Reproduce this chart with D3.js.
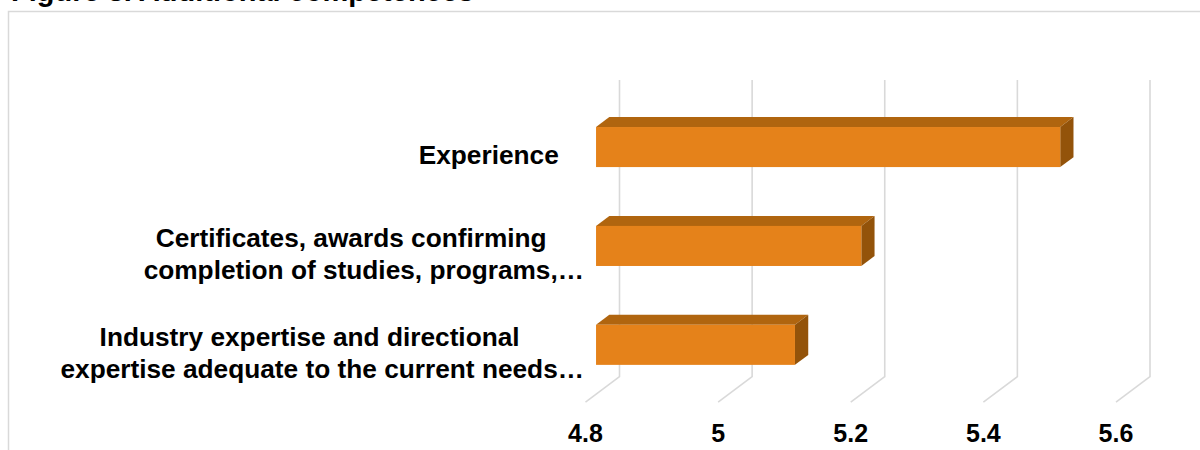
<!DOCTYPE html>
<html>
<head>
    <meta charset='utf-8'>
    <title>Additional competences</title>
    <style>
        body { margin: 0; background: #fff; }
        text { font-family: "Liberation Sans", Arial, sans-serif; font-weight: bold; fill: #000; }
    </style>
</head>
<body>
<svg width="1200" height="450"></svg>
<script src="https://d3js.org/d3.v7.min.js"></script>
<script>
    // data
    const categories = [
        ["Experience"],
        ["Certificates, awards confirming", "completion of studies, programs,\u2026"],
        ["Industry expertise and directional", "expertise adequate to the current needs\u2026"]
    ]
    const values = [5.5, 5.2, 5.1]
    const ticks = [4.8, 5, 5.2, 5.4, 5.6]
    const title = "Figure 3. Additional competences"

    const width = 1200
    const height = 450

    // 3d floor depth: back plane -> front plane offset
    const depthX = -34
    const depthY = 25.5
    const barFront = 0.69
    const barBack = 0.30

    const svg = d3.select("svg")
        .attr("viewBox", [0, 0, width, height])

    // chart frame (only top and left edge are in view)
    svg.append("path")
        .attr("d", "M8.5,450V11.5H1200")
        .attr("fill", "none")
        .attr("stroke", "#d9d9d9")
        .attr("stroke-width", 1.5)

    svg.append("text")
        .attr("x", 11)
        .attr("y", 0.5)
        .attr("font-size", 29)
        .text(title)

    const x = d3.scaleLinear()
        .domain([ticks[0], ticks[ticks.length - 1]])
        .range([619.5, 1150])

    const y = d3.scaleBand()
        .domain(d3.range(categories.length))
        .range([80, 376.7])
        .paddingInner(0.595)
        .paddingOuter(0.2975)

    // gridlines: back wall vertical, then floor diagonal
    svg.append("g")
        .attr("fill", "none")
        .attr("stroke", "#d9d9d9")
        .attr("stroke-width", 1.6)
        .selectAll("path")
        .data(ticks)
        .join("path")
        .attr("d", t => `M${x(t)},${y.range()[0]}V${y.range()[1]}l${depthX},${depthY}`)

    // bars
    const bars = svg.append("g")
        .selectAll("g")
        .data(values)
        .join("g")

    const fx = v => x(v) + depthX * barFront
    const bx = v => x(v) + depthX * barBack
    const fy = i => y(i) + depthY * barFront
    const by = i => y(i) + depthY * barBack
    const bw = y.bandwidth()

    bars.append("path")
        .attr("fill", "#b0650f")
        .attr("d", (d, i) => `M${fx(ticks[0])},${fy(i)}L${fx(d)},${fy(i)}L${bx(d)},${by(i)}L${bx(ticks[0])},${by(i)}Z`)

    bars.append("path")
        .attr("fill", "#93530a")
        .attr("d", (d, i) => `M${fx(d)},${fy(i)}L${bx(d)},${by(i)}L${bx(d)},${by(i) + bw}L${fx(d)},${fy(i) + bw}Z`)

    bars.append("rect")
        .attr("fill", "#e5821a")
        .attr("x", fx(ticks[0]))
        .attr("y", (d, i) => fy(i))
        .attr("width", d => fx(d) - fx(ticks[0]))
        .attr("height", bw)

    // category labels, lines centered in a block right-aligned to the axis
    const labelRight = 584
    const stretch = 1.05
    const linePad = 24
    const lineHeight = 32
    const labels = svg.append("g")
        .attr("font-size", 25)
        .attr("text-anchor", "middle")
        .attr("transform", `translate(${labelRight * (1 - stretch)},0) scale(${stretch},1)`)

    categories.forEach((lines, i) => {
        const cy = y(i) + bw / 2 + depthY
        const g = labels.append("g")
        const texts = lines.map((line, j) => g.append("text")
            .attr("y", cy - (lines.length - 1) * lineHeight / 2 + j * lineHeight + 9)
            .text(line))
        const pads = lines.map(line => line.endsWith("\u2026") ? 0 : linePad)
        const widths = texts.map((t, j) => t.node().getComputedTextLength() + pads[j])
        const center = labelRight - d3.max(widths) / 2
        texts.forEach((t, j) => t.attr("x", center - pads[j] / 2))
    })

    // value axis labels on the floor front edge
    svg.append("g")
        .attr("font-size", 25)
        .attr("text-anchor", "middle")
        .selectAll("text")
        .data(ticks)
        .join("text")
        .attr("x", t => x(t) + depthX)
        .attr("y", 442)
        .text(t => t)
</script>
</body>
</html>
